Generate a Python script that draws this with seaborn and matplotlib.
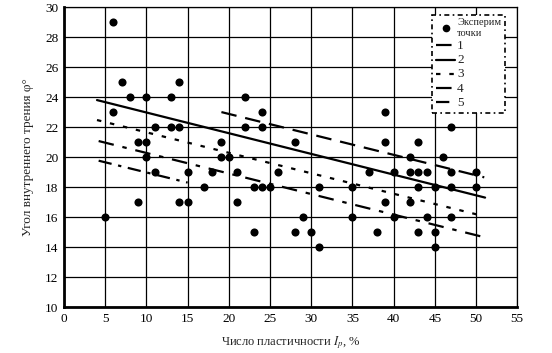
import matplotlib
matplotlib.use("Agg")
import matplotlib.pyplot as plt
from matplotlib.lines import Line2D
import seaborn as sns
import pandas as pd

# experimental points (plasticity index, friction angle)
ip_vals = [6, 7, 8, 10, 13, 14, 6, 11, 13, 14, 9, 10, 10, 19, 19, 20, 22, 24, 22, 24,
           28, 39, 47, 39, 43, 42, 46, 11, 15, 18, 21, 26, 17, 23, 24, 25, 9, 14, 15, 21,
           5, 29, 23, 28, 30, 37, 40, 42, 43, 44, 47, 50, 31, 35, 43, 45, 47, 50, 39, 42,
           35, 40, 44, 47, 38, 43, 45, 31, 45]
phi_vals = [29, 25, 24, 24, 24, 25, 23, 22, 22, 22, 21, 21, 20, 21, 20, 20, 24, 23, 22, 22,
            21, 23, 22, 21, 21, 20, 20, 19, 19, 19, 19, 19, 18, 18, 18, 18, 17, 17, 17, 17,
            16, 16, 15, 15, 15, 19, 19, 19, 19, 19, 19, 19, 18, 18, 18, 18, 18, 18, 17, 17,
            16, 16, 16, 16, 15, 15, 15, 14, 14]

# regression lines (endpoints)
line_names = ["1", "2", "3", "4", "5"]
line_x = [[19.1, 51.0], [4.0, 51.1], [4.0, 50.3], [4.2, 50.7], [4.2, 15.0]]
line_y = [[23.0, 18.65], [23.8, 17.3], [22.47, 16.15], [21.07, 14.7], [19.76, 18.3]]

x_ticks = list(range(0, 56, 5))
y_ticks = list(range(10, 31, 2))

sns.set_style("white")
plt.rcParams["font.family"] = ["Liberation Serif", "DejaVu Serif"]
plt.rcParams["mathtext.fontset"] = "stix"

fig = plt.figure(figsize=(5.52, 3.53), dpi=100)
ax = fig.add_axes([0.116, 0.130, 0.821, 0.850])

styles = {
    "1": dict(linestyle=(0, (7, 4)), linewidth=1.6),
    "2": dict(linestyle="-", linewidth=1.6),
    "3": dict(linestyle=(0, (2, 4)), linewidth=1.6),
    "4": dict(linestyle=(0, (7, 4, 2, 4)), linewidth=1.6),
    "5": dict(linestyle=(0, (6, 3, 1.5, 3)), linewidth=1.6),
}

for name, xs, ys in zip(line_names, line_x, line_y):
    df = pd.DataFrame({"x": xs, "y": ys})
    sns.lineplot(data=df, x="x", y="y", ax=ax, color="black", **styles[name])

pts = pd.DataFrame({"ip": ip_vals, "phi": phi_vals})
sns.scatterplot(data=pts, x="ip", y="phi", ax=ax, color="black", s=34,
                edgecolor="black", linewidth=0, zorder=5)

ax.set_xlim(0, 55)
ax.set_ylim(10, 30)
ax.set_xticks(x_ticks)
ax.set_yticks(y_ticks)
ax.grid(True, color="black", linewidth=0.9)
ax.set_axisbelow(True)
for side in ["top", "right"]:
    ax.spines[side].set_linewidth(0.9)
    ax.spines[side].set_color("black")
for side in ["left", "bottom"]:
    ax.spines[side].set_linewidth(2.0)
    ax.spines[side].set_color("black")
ax.tick_params(axis="both", direction="inout", length=6, width=1.5,
               labelsize=9.5, colors="black", pad=1)

ax.set_xlabel("Число пластичности $I_p$, %", fontsize=9, labelpad=7)
ax.set_ylabel("Угол внутреннего трения φ°", fontsize=9.5, labelpad=8)

handles = [Line2D([], [], marker="o", color="black", linestyle="none", markersize=4.5)]
labels = ["Эксперим\nточки"]
for name in line_names:
    handles.append(Line2D([], [], color="black", **styles[name]))
    labels.append(name)
leg = ax.legend(handles, labels, loc="upper left", bbox_to_anchor=(0.812, 0.975),
                fontsize=7.5, frameon=True, fancybox=False, framealpha=1,
                edgecolor="black", handlelength=1.9, handletextpad=0.15,
                labelspacing=0.22, borderpad=0.35, borderaxespad=0)
for t in leg.get_texts()[1:]:
    t.set_fontsize(9.5)
leg.get_frame().set_linestyle((0, (3, 2, 1, 2)))
leg.get_frame().set_linewidth(1.2)
leg.set_zorder(10)

fig.savefig("out.png", dpi=100, facecolor="white")
